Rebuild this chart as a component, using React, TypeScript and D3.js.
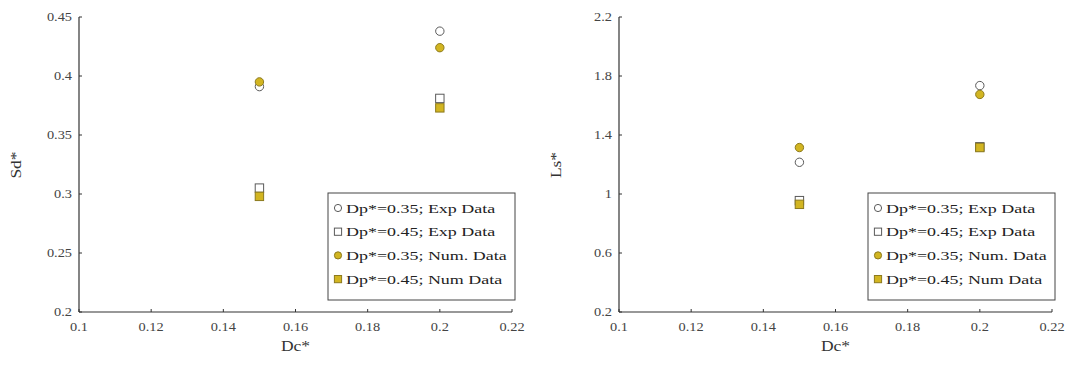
import React from "react";
import * as d3 from "d3";

// Dc* values shared by both panels
const dc = [0.15, 0.2];

// Left panel: Sd*
const sdExp035 = [0.391, 0.438];
const sdExp045 = [0.305, 0.381];
const sdNum035 = [0.395, 0.424];
const sdNum045 = [0.298, 0.373];
const sdTicks = [0.2, 0.25, 0.3, 0.35, 0.4, 0.45];

// Right panel: Ls*
const lsExp035 = [1.215, 1.735];
const lsExp045 = [0.955, 1.32];
const lsNum035 = [1.315, 1.675];
const lsNum045 = [0.93, 1.315];
const lsTicks = [0.2, 0.6, 1, 1.4, 1.8, 2.2];

const xTicks = [0.1, 0.12, 0.14, 0.16, 0.18, 0.2, 0.22];

const legendLabels = [
  "Dp*=0.35; Exp Data",
  "Dp*=0.45; Exp Data",
  "Dp*=0.35; Num. Data",
  "Dp*=0.45; Num Data",
];

const FONT = "'Liberation Serif', 'Times New Roman', serif";
const SX = 1.25; // reference text is stretched horizontally
const NUM_FILL = "#d2b521";
const NUM_STROKE = "#8c7a1e";
const EXP_STROKE = "#5a5a5a";

function Txt({ x, y, size, anchor = "start", fill = "#333", children, rotate = 0, sx = SX }: any) {
  const tr = rotate
    ? `translate(${x},${y}) rotate(${rotate}) scale(${sx},1)`
    : `translate(${x},${y}) scale(${sx},1)`;
  return (
    <text transform={tr} fontFamily={FONT} fontSize={size} textAnchor={anchor} fill={fill}>
      {children}
    </text>
  );
}

function Marker({ kind, num, x, y, r = 4.2 }: any) {
  const fill = num ? NUM_FILL : "#fff";
  const stroke = num ? NUM_STROKE : EXP_STROKE;
  if (kind === "circle") {
    return <circle cx={x} cy={y} r={r} fill={fill} stroke={stroke} strokeWidth={1} />;
  }
  return <rect x={x - r} y={y - r} width={2 * r} height={2 * r} fill={fill} stroke={stroke} strokeWidth={1} />;
}

function Panel({ left, yTicks, yDomain, yFmt, yLabel, series, legendX }: any) {
  const x = d3.scaleLinear().domain([0.1, 0.22]).range([left, left + 433]);
  const y = d3.scaleLinear().domain(yDomain).range([312, 17]);
  return (
    <g>
      <line x1={left} x2={left} y1={y(yDomain[1])} y2={y(yDomain[0])} stroke="#333" strokeWidth={1.2} />
      <line x1={left} x2={x(0.22)} y1={312} y2={312} stroke="#333" strokeWidth={1.2} />
      {yTicks.map((t: number) => (
        <g key={"y" + t}>
          <line x1={left} x2={left + 3} y1={y(t)} y2={y(t)} stroke="#333" />
          <Txt x={left - 7} y={y(t) + 4} size={11.5} anchor="end" fill="#444">
            {yFmt(t)}
          </Txt>
        </g>
      ))}
      {xTicks.map((t) => (
        <g key={"x" + t}>
          <line x1={x(t)} x2={x(t)} y1={312} y2={309} stroke="#333" />
          <Txt x={x(t)} y={331} size={11.5} anchor="middle" fill="#444">
            {d3.format("~g")(t)}
          </Txt>
        </g>
      ))}
      <Txt x={left - 58} y={165} size={14} anchor="middle" rotate={-90}>
        {yLabel}
      </Txt>
      <Txt x={x(0.16)} y={351} size={14} anchor="middle">
        Dc*
      </Txt>
      {series.map((s: any, i: number) =>
        dc.map((d, j) => (
          <Marker key={i + "-" + j} kind={s.kind} num={s.num} x={x(d)} y={y(s.values[j])} />
        ))
      )}
      <rect x={legendX} y={193} width={187} height={107} fill="#fff" stroke="#444" strokeWidth={1} />
      {series.map((s: any, i: number) => (
        <g key={"l" + i}>
          <Marker kind={s.kind} num={s.num} x={legendX + 10} y={208 + i * 23.7} r={3.6} />
          <Txt x={legendX + 18} y={212.5 + i * 23.7} size={13.5} fill="#222" sx={1.33}>
            {legendLabels[i]}
          </Txt>
        </g>
      ))}
    </g>
  );
}

export default function App() {
  const leftSeries = [
    { kind: "circle", num: false, values: sdExp035 },
    { kind: "rect", num: false, values: sdExp045 },
    { kind: "circle", num: true, values: sdNum035 },
    { kind: "rect", num: true, values: sdNum045 },
  ];
  const rightSeries = [
    { kind: "circle", num: false, values: lsExp035 },
    { kind: "rect", num: false, values: lsExp045 },
    { kind: "circle", num: true, values: lsNum035 },
    { kind: "rect", num: true, values: lsNum045 },
  ];
  return (
    <svg width={1069} height={372} style={{ position: "absolute", left: 0, top: 0, background: "#fff" }}>
      <Panel
        left={79}
        yTicks={sdTicks}
        yDomain={[0.2, 0.45]}
        yFmt={d3.format("~g")}
        yLabel="Sd*"
        series={leftSeries}
        legendX={328}
      />
      <Panel
        left={619}
        yTicks={lsTicks}
        yDomain={[0.2, 2.2]}
        yFmt={d3.format("~g")}
        yLabel="Ls*"
        series={rightSeries}
        legendX={868}
      />
    </svg>
  );
}
